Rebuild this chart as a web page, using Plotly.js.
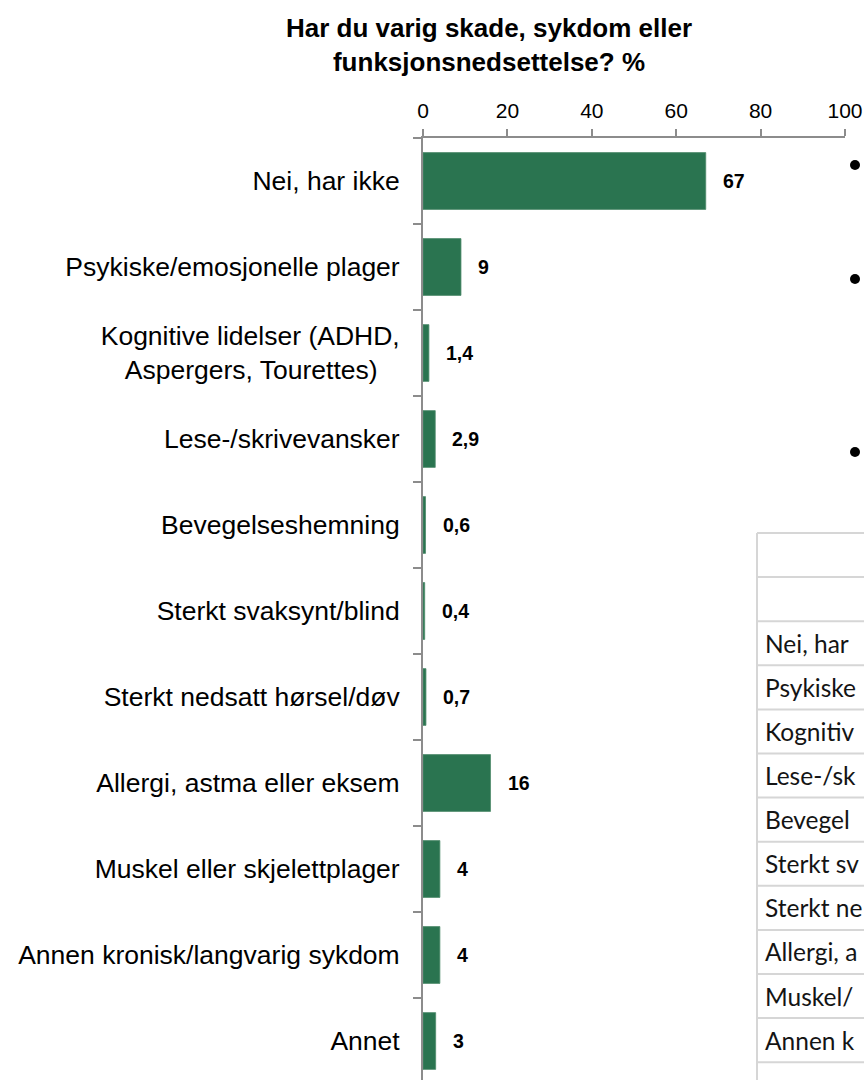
<!DOCTYPE html>
<html>
<head>
<meta charset="utf-8">
<script src="https://cdn.plot.ly/plotly-3.0.1.min.js"></script>
<style>
html,body{margin:0;padding:0;background:#fff;}
#chart{width:864px;height:1080px;}
</style>
</head>
<body>
<div id="chart"></div>
<script>
// ---- data ----
const categories = [
  "Nei, har ikke",
  "Psykiske/emosjonelle plager",
  "Kognitive lidelser (ADHD,<br>Aspergers, Tourettes)",
  "Lese-/skrivevansker",
  "Bevegelseshemning",
  "Sterkt svaksynt/blind",
  "Sterkt nedsatt hørsel/døv",
  "Allergi, astma eller eksem",
  "Muskel eller skjelettplager",
  "Annen kronisk/langvarig sykdom",
  "Annet"
];
const values = [67, 9, 1.4, 2.9, 0.6, 0.4, 0.7, 16, 4, 4, 3];
const xTicks = [0, 20, 40, 60, 80, 100];
const titleText = "Har du varig skade, sykdom eller<br>funksjonsnedsettelse? %";
// partially visible table on the right side of the slide (cut off by the frame)
const tableRows = ["", "", "Nei, har", "Psykiske", "Kognitiv", "Lese-/sk", "Bevegel",
                   "Sterkt sv", "Sterkt ne", "Allergi, a", "Muskel/", "Annen k", ""];

// ---- layout helpers ----
const W = 864, H = 1080;
const M = {l: 423, r: 19, t: 138, b: 0};
const plotW = W - M.l - M.r, plotH = H - M.t - M.b;
const px = x => (x - M.l) / plotW;
const py = y => (H - M.b - y) / plotH;

const FONT = "Liberation Sans, Arial, sans-serif";
const GREEN = "#2a7450";
const AXIS = "#8c8c8c";

const fmt = v => String(v).replace(".", ",");

const trace = {
  type: "bar",
  orientation: "h",
  x: values,
  y: categories,
  width: 0.66,
  marker: {color: GREEN, line: {color: "#4f8c6c", width: 0.8}},
  hoverinfo: "skip"
};

const annotations = [];
values.forEach((v, i) => {
  annotations.push({
    x: v, y: categories[i], xref: "x", yref: "y",
    text: "<b>" + fmt(v) + "</b>",
    showarrow: false, xanchor: "left", yanchor: "middle", xshift: 15,
    font: {family: FONT, size: 19.5, color: "#000"}
  });
});

// table on the right
const rowTop = 533, rowH = 44.1, tableLeft = 757;
const shapes = [];
for (let i = 0; i <= tableRows.length; i++) {
  const y = rowTop + i * rowH;
  if (y > H) break;
  shapes.push({type: "line", xref: "paper", yref: "paper",
    x0: px(tableLeft), x1: px(W + 20), y0: py(y), y1: py(y),
    line: {color: "#d6d6d6", width: 2}});
}
shapes.push({type: "line", xref: "paper", yref: "paper",
  x0: px(tableLeft), x1: px(tableLeft), y0: py(rowTop), y1: py(H + 10),
  line: {color: "#d6d6d6", width: 2}});
tableRows.forEach((t, i) => {
  if (!t) return;
  annotations.push({
    xref: "paper", yref: "paper", x: px(763), y: py(rowTop + (i + 0.5) * rowH),
    text: t, showarrow: false, xanchor: "left", yanchor: "middle",
    font: {family: "Lato, Carlito, sans-serif", size: 24.5, color: "#141414"}
  });
});

// bullet points (slide text is off-frame)
[165, 279, 452].forEach(y => {
  shapes.push({type: "circle", xref: "paper", yref: "paper",
    xsizemode: "pixel", ysizemode: "pixel",
    xanchor: px(855), yanchor: py(y), x0: -5, x1: 5, y0: -5, y1: 5,
    fillcolor: "#000", line: {width: 0}});
});

const ticktext = categories.map(c => c.indexOf("<br>") >= 0 ? c + "\u00a0\u00a0\u00a0" : c);

const layout = {
  width: W, height: H,
  margin: {l: M.l, r: M.r, t: M.t, b: M.b, pad: 0},
  paper_bgcolor: "#fff", plot_bgcolor: "#fff",
  showlegend: false,
  title: {
    text: "<b>" + titleText + "</b>",
    font: {family: FONT, size: 26, color: "#000"},
    x: 489 / W, xref: "container", xanchor: "center",
    y: 1 - 37 / H, yref: "container", yanchor: "top"
  },
  xaxis: {
    side: "top", range: [0, 100], tickmode: "array", tickvals: xTicks,
    ticks: "outside", ticklen: 7, tickwidth: 2, tickcolor: AXIS,
    showline: true, linecolor: AXIS, linewidth: 2,
    showgrid: false, zeroline: false, fixedrange: true,
    ticklabelstandoff: 3,
    tickfont: {family: FONT, size: 21, color: "#000"}
  },
  yaxis: {
    type: "category", categoryorder: "array", categoryarray: categories,
    range: [-0.5 + plotH / 86, -0.5],
    tickmode: "array", tickvals: categories, ticktext: ticktext,
    tickson: "boundaries",
    ticks: "outside", ticklen: 8, tickwidth: 2, tickcolor: AXIS,
    showline: true, linecolor: AXIS, linewidth: 2,
    showgrid: false, zeroline: false, fixedrange: true,
    ticklabelstandoff: 16,
    tickfont: {family: FONT, size: 26.5, color: "#000"}
  },
  annotations: annotations,
  shapes: shapes
};

Plotly.newPlot("chart", [trace], layout, {displayModeBar: false, staticPlot: true});
</script>
</body>
</html>
